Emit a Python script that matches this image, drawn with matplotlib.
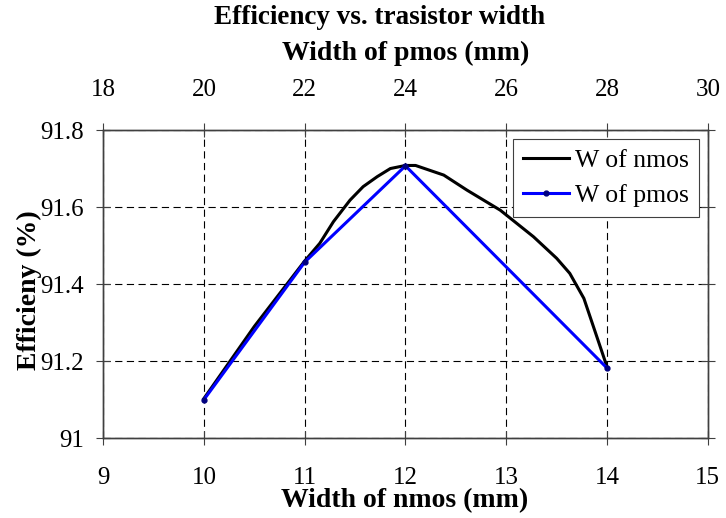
import matplotlib.pyplot as plt

# nmos width sweep (mm) vs efficiency (%)
nmos_w = [10.0, 10.5, 11.0, 11.15, 11.285, 11.45, 11.58, 11.72, 11.85, 12.0,
          12.1, 12.38, 12.61, 12.94, 13.27, 13.5, 13.63, 13.77, 14.0]
nmos_eff = [91.103, 91.29, 91.46, 91.506, 91.562, 91.618, 91.653, 91.679,
            91.70, 91.708, 91.708, 91.683, 91.644, 91.592, 91.523, 91.467,
            91.428, 91.363, 91.185]

# pmos width sweep (mm) vs efficiency (%)
pmos_w = [20, 22, 24, 28]
pmos_eff = [91.10, 91.457, 91.707, 91.182]

nmos_ticks = [9, 10, 11, 12, 13, 14, 15]
pmos_ticks = [18, 20, 22, 24, 26, 28, 30]
eff_ticks = [91, 91.2, 91.4, 91.6, 91.8]
eff_labels = ["91", "91.2", "91.4", "91.6", "91.8"]

plt.rcParams["font.family"] = ["Liberation Serif", "DejaVu Serif"]

fig = plt.figure(figsize=(7.26, 5.18), dpi=100)
ax = fig.add_axes([0.142, 0.154, 0.833, 0.595])

line_n, = ax.plot(nmos_w, nmos_eff, color="black", lw=2.2,
                  label="W of nmos", zorder=3)
ax.set_xlim(9, 15)
ax.set_ylim(91, 91.8)
ax.set_xticks(nmos_ticks)
ax.set_yticks(eff_ticks)
ax.set_yticklabels(eff_labels)
ax.grid(True, color="black", ls=(0, (6.5, 4)), lw=0.8)

ax.set_xlabel("Width of nmos (mm)", fontsize=20, fontweight="bold")
ax.xaxis.set_label_coords(0.499, -0.163)
ax.set_ylabel("Efficieny (%)", fontsize=20, fontweight="bold", va="center")
ax.yaxis.set_label_coords(-0.122, 0.48)

ax2 = ax.twiny()
line_p, = ax2.plot(pmos_w, pmos_eff, color="#0000ff", lw=2.2, marker="o",
                   ms=3.5, mfc="#000080", mec="#000080",
                   label="W of pmos", zorder=3)
ax2.set_xlim(18, 30)
ax2.set_xticks(pmos_ticks)
ax2.set_xlabel("Width of pmos (mm)", fontsize=20, fontweight="bold")
ax2.xaxis.set_label_coords(0.5, 1.228)

fig.text(379 / 726, 1 - 18 / 518, "Efficiency vs. trasistor width",
         fontsize=19.5, fontweight="bold", ha="center", va="center")

for a in (ax, ax2):
    a.tick_params(labelsize=18, direction="inout", length=10, width=0.8,
                  color="#404040")
    for s in a.spines.values():
        s.set_color("#404040")
        s.set_linewidth(1.0)
ax.tick_params(axis="x", pad=16)
ax.tick_params(axis="y", pad=9, right=True)
ax2.tick_params(axis="x", pad=16)

leg = ax2.legend(handles=[line_n, line_p], loc="upper right", fontsize=18.5,
                 frameon=True, fancybox=False, edgecolor="#404040",
                 framealpha=1, handlelength=1.8, handletextpad=0.2,
                 borderpad=0.4, labelspacing=0.45, borderaxespad=0,
                 bbox_to_anchor=(0.985, 0.971))
leg.get_frame().set_linewidth(0.8)

fig.savefig("out.png", dpi=100)
